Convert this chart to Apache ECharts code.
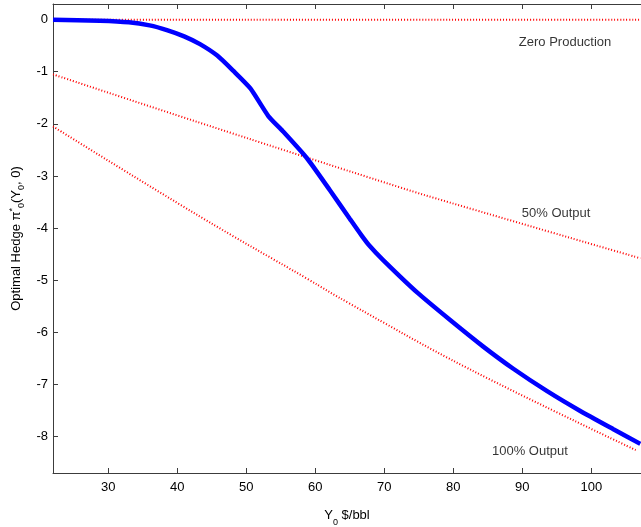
<!DOCTYPE html>
<html>
<head>
<meta charset="utf-8">
<script src="https://cdn.jsdelivr.net/npm/echarts@6/dist/echarts.min.js"></script>
<style>
  html, body { margin: 0; padding: 0; background: #fff; }
  #chart { width: 641px; height: 527px; }
</style>
</head>
<body>
<div id="chart"></div>
<script>
// optimal hedge curve
const hedgeX = [22.0, 28.8, 33.0, 36.0, 38.5, 41.0, 43.3, 45.8, 48.1, 50.6, 53.2, 55.3, 58.8, 62.1, 65.0, 66.7, 67.8, 69.8, 74.8, 79.5, 84.3, 88.7, 93.6, 98.4, 103.2, 107.1];
const hedgeY = [0, -0.02, -0.05, -0.11, -0.20, -0.32, -0.47, -0.69, -0.98, -1.32, -1.85, -2.14, -2.66, -3.27, -3.82, -4.14, -4.33, -4.61, -5.24, -5.76, -6.27, -6.70, -7.13, -7.51, -7.86, -8.14];

// reference lines
const zeroX = [22, 107.2];
const zeroY = [0, 0];
const halfX = [22.0, 43.3, 72.3, 79.5, 107.1];
const halfY = [-1.05, -1.98, -3.22, -3.51, -4.58];
const fullX = [22.0, 43.3, 58.8, 65.0, 82.1, 106.6];
const fullY = [-2.05, -3.78, -4.97, -5.45, -6.69, -8.27];

const labelNames = ['Zero Production', '50% Output', '100% Output'];
const labelX = [96.2, 94.9, 91.1];
const labelY = [-0.44, -3.71, -8.28];

const xTicks = [30, 40, 50, 60, 70, 80, 90, 100];
const yTicks = [-8, -7, -6, -5, -4, -3, -2, -1, 0];

const font = 'Liberation Sans, Arial, sans-serif';
const axisColor = '#3c3c3c';

function pairs(xs, ys) {
    return xs.map((x, i) => [x, ys[i]]);
}

function dottedRed(name, xs, ys) {
    return {
        name: name,
        type: 'line',
        data: pairs(xs, ys),
        symbol: 'none',
        smooth: 0.4,
        silent: true,
        lineStyle: { color: '#ff0000', width: 2, type: [1, 2] },
        z: 2
    };
}

const chart = echarts.init(document.getElementById('chart'));

const option = {
    animation: false,
    backgroundColor: '#fff',
    grid: { left: 53, right: 0, top: 4, bottom: 54, outerBoundsMode: 'none' },
    xAxis: [
        {
            type: 'value',
            min: 22, max: 107.2,
            name: '{n|Y}{sub|0}{n| $/bbl}',
            nameLocation: 'middle',
            nameGap: 36,
            nameTextStyle: {
                rich: {
                    n: { fontFamily: font, fontSize: 13, color: '#000', lineHeight: 18, verticalAlign: 'top' },
                    sub: { fontFamily: font, fontSize: 9, color: '#000', lineHeight: 18, verticalAlign: 'bottom' }
                }
            },
            axisLine: { show: true, onZero: false, lineStyle: { color: axisColor, width: 1 } },
            axisTick: { show: true, inside: true, length: 5, customValues: xTicks, lineStyle: { color: axisColor } },
            axisLabel: { customValues: xTicks, fontFamily: font, fontSize: 13, color: '#000', margin: 8 },
            splitLine: { show: false }
        },
        {
            type: 'value',
            position: 'top',
            min: 22, max: 107.2,
            axisLine: { show: true, onZero: false, lineStyle: { color: axisColor, width: 1 } },
            axisTick: { show: true, inside: true, length: 5, customValues: xTicks, lineStyle: { color: axisColor } },
            axisLabel: { show: false },
            splitLine: { show: false }
        }
    ],
    yAxis: {
        type: 'value',
        min: -8.7, max: 0.3,
        name: '{n|Optimal Hedge \u03c0}{sup|*}{sub|0}{n|(Y}{sub|0}{n|, 0)}',
        nameLocation: 'middle',
        nameRotate: 90,
        nameGap: 20,
        nameTextStyle: {
            rich: {
                n: { fontFamily: font, fontSize: 13, color: '#000', lineHeight: 18 },
                sup: { fontFamily: font, fontSize: 9, color: '#000', lineHeight: 18, verticalAlign: 'top' },
                sub: { fontFamily: font, fontSize: 9, color: '#000', lineHeight: 18, verticalAlign: 'bottom' }
            }
        },
        axisLine: { show: true, onZero: false, lineStyle: { color: axisColor, width: 1 } },
        axisTick: { show: true, inside: true, length: 5, customValues: yTicks, lineStyle: { color: axisColor } },
        axisLabel: { customValues: yTicks, fontFamily: font, fontSize: 13, color: '#000', margin: 5 },
        splitLine: { show: false }
    },
    series: [
        dottedRed('Zero Production', zeroX, zeroY),
        dottedRed('50% Output', halfX, halfY),
        dottedRed('100% Output', fullX, fullY),
        {
            name: 'Optimal Hedge',
            type: 'line',
            data: pairs(hedgeX, hedgeY),
            symbol: 'none',
            smooth: 0.2,
            silent: true,
            lineStyle: { color: '#0000ff', width: 4.5 },
            z: 3
        },
        {
            name: 'labels',
            type: 'scatter',
            symbolSize: 0,
            silent: true,
            data: labelNames.map((n, i) => ({ name: n, value: [labelX[i], labelY[i]] })),
            label: {
                show: true,
                position: 'inside',
                formatter: p => p.name,
                fontFamily: font,
                fontSize: 13,
                color: '#000'
            },
            z: 4
        }
    ]
};

chart.setOption(option);
</script>
</body>
</html>
